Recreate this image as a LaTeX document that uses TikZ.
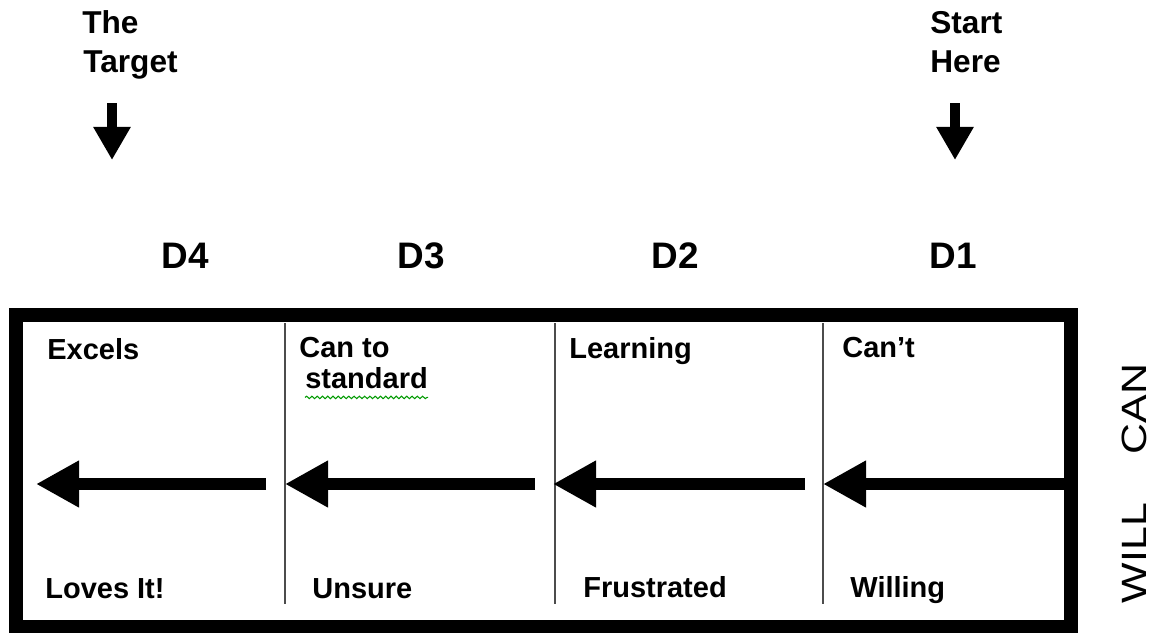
\documentclass[tikz,border=0pt]{standalone}
\usepackage{fontspec}
\setmainfont{Liberation Sans}
\usetikzlibrary{positioning,arrows.meta,decorations.pathmorphing}

\begin{document}
\begin{tikzpicture}[
    x=0.02cm, y=-0.02cm,
    cell_text/.style={anchor=base west, inner sep=0pt, font=\fontsize{16.5}{18}\selectfont\bfseries},
    marker_text/.style={anchor=base west, inner sep=0pt, font=\fontsize{18}{21}\selectfont\bfseries},
    phase/.style={anchor=base, inner sep=0pt, font=\fontsize{21}{24}\selectfont\bfseries},
    side_text/.style={rotate=90, inner sep=0pt, font=\fontsize{20}{24}\selectfont},
    stage_arrow/.style={line width=6.8pt, -{Triangle[length=24.5pt, width=25pt]}},
    down_arrow/.style={line width=5.7pt, -{Triangle[length=18.8pt, width=20pt]}},
    divider/.style={line width=1.1pt, black!70},
    frame/.style={line width=8.5pt},
    spell_mark/.style={green!60!black, line width=0.6pt, decorate, decoration={snake, amplitude=0.7pt, segment length=3pt}}
]
    \useasboundingbox (0,0) rectangle (1155,632);

    % Markers above the scale
    \node[marker_text] (the) at (82,33) {The};
    \node[marker_text] (target) at (83,72) {Target};
    \node[marker_text] (start) at (930,33) {Start};
    \node[marker_text] (here) at (930,72) {Here};

    \coordinate (target_top) at (112,103);
    \coordinate (target_tip) at (112,160);
    \coordinate (start_top) at (955,103);
    \coordinate (start_tip) at (955,160);
    \draw[down_arrow] (target_top) -- (target_tip);
    \draw[down_arrow] (start_top) -- (start_tip);

    % Development levels
    \node[phase] (d4) at (185,268) {D4};
    \node[phase] (d3) at (421,268) {D3};
    \node[phase] (d2) at (675,268) {D2};
    \node[phase] (d1) at (953,268) {D1};

    % Frame and dividers
    \draw[frame] (16,315) rectangle (1071,627.5);

    \coordinate (div1_top) at (285,323);
    \coordinate (div1_bot) at (285,604);
    \coordinate (div2_top) at (555,323);
    \coordinate (div2_bot) at (555,604);
    \coordinate (div3_top) at (823,323);
    \coordinate (div3_bot) at (823,604);
    \draw[divider] (div1_top) -- (div1_bot);
    \draw[divider] (div2_top) -- (div2_bot);
    \draw[divider] (div3_top) -- (div3_bot);

    % Competence row
    \node[cell_text] (excels) at (47,359) {Excels};
    \node[cell_text] (canto) at (299,357) {Can to};
    \node[cell_text] (standard) at (305,388) {standard};
    \node[cell_text] (learning) at (569,358) {Learning};
    \node[cell_text] (cant) at (842,357) {Can’t};
    \draw[spell_mark] ([yshift=-5pt]standard.south west) -- ([yshift=-5pt]standard.south east);

    % Commitment row
    \node[cell_text] (loves) at (45,598) {Loves It!};
    \node[cell_text] (unsure) at (312,598) {Unsure};
    \node[cell_text] (frustrated) at (583,597) {Frustrated};
    \node[cell_text] (willing) at (850,597) {Willing};

    % Progress arrows
    \coordinate (a1_start) at (1064,484);
    \coordinate (a1_tip) at (823,484);
    \coordinate (a2_start) at (805,484);
    \coordinate (a2_tip) at (553,484);
    \coordinate (a3_start) at (535,484);
    \coordinate (a3_tip) at (285,484);
    \coordinate (a4_start) at (266,484);
    \coordinate (a4_tip) at (36,484);
    \draw[stage_arrow] (a1_start) -- (a1_tip);
    \draw[stage_arrow] (a2_start) -- (a2_tip);
    \draw[stage_arrow] (a3_start) -- (a3_tip);
    \draw[stage_arrow] (a4_start) -- (a4_tip);

    % Side axis
    \node[side_text] (can) at (1134,409) {\scalebox{1.22}[1]{CAN}};
    \node[side_text] (will) at (1134,553) {\scalebox{1.22}[1]{WILL}};
\end{tikzpicture}
\end{document}
